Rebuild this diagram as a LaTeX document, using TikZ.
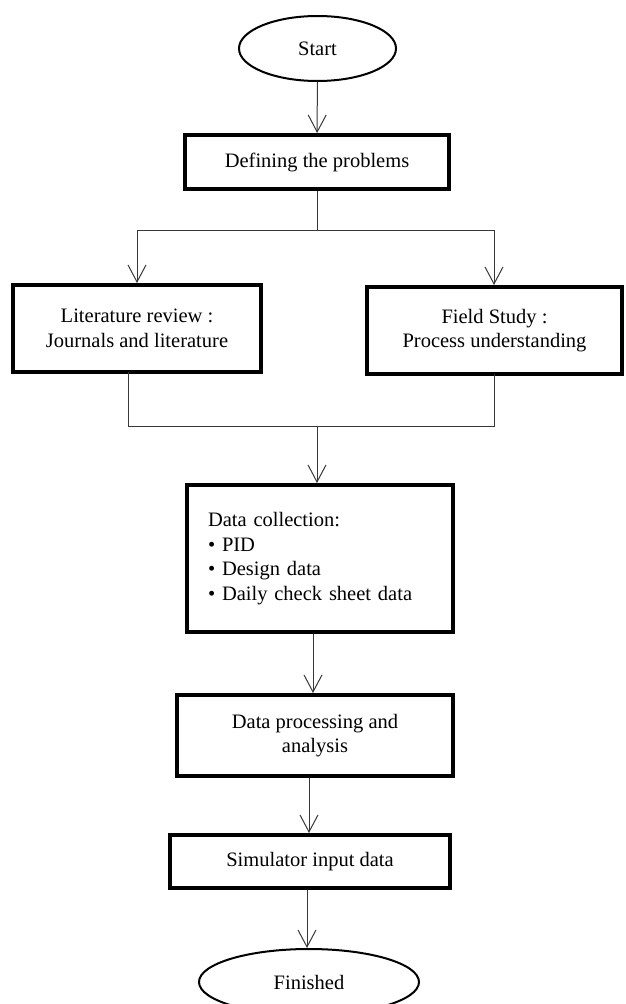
\documentclass[tikz,border=0pt]{standalone}
\usepackage{fontspec}
\setmainfont{Liberation Serif}
\usetikzlibrary{shapes.geometric,arrows.meta}
\begin{document}
\begin{tikzpicture}[x=1pt,y=-1pt,
  every node/.style={font=\fontsize{20.5}{24.5}\selectfont},
  stepbox/.style={draw=black, line width=4pt, rectangle, inner sep=0pt, align=center},
  termbox/.style={draw=black, line width=2pt, ellipse, inner sep=0pt},
  conn/.style={draw=black!78, line width=1pt},
  arr/.style={conn, -{Straight Barb[length=17pt,width=18pt,line width=1pt]}}
]
\useasboundingbox (0,0) rectangle (625,1004);

\node[termbox, minimum width=157pt, minimum height=65pt] (start) at (317.5,48.5) {Start};
\node[stepbox, minimum width=264pt, minimum height=54pt] (def) at (317,162) {Defining the problems};
\node[stepbox, minimum width=248pt, minimum height=87pt] (lit) at (137,328.5) {Literature review :\\Journals and literature};
\node[stepbox, minimum width=255pt, minimum height=87pt] (field) at (494.5,330.5) {Field Study :\\Process understanding};
\node[stepbox, minimum width=266pt, minimum height=147pt, text width=224pt, align=left, inner xsep=21pt] (dc) at (320,558.5)
  {Data collection:\\\textbullet{} PID\\\textbullet{} Design data\\\textbullet{} Daily check sheet data};
\node[stepbox, minimum width=276pt, minimum height=81pt] (dp) at (315,735.5) {Data processing and\\analysis};
\node[stepbox, minimum width=280pt, minimum height=53pt] (sim) at (310,861.5) {Simulator input data};
\node[termbox, minimum width=220pt, minimum height=66pt] (fin) at (309,982) {Finished};

\coordinate (sp) at (317,230);
\coordinate (spL) at (137,230);
\coordinate (spR) at (494,230);
\coordinate (jL) at (128,426);
\coordinate (jR) at (494,426);
\coordinate (jC) at (317,426);
\coordinate (x1) at (313,0);
\coordinate (x2) at (309,0);
\coordinate (x3) at (307,0);

\draw[arr] (start) -- (def);
\draw[conn] (def) -- (sp);
\draw[conn] (spL) -- (spR);
\draw[arr] (spL) -- (spL |- lit.north);
\draw[arr] (spR) -- (spR |- field.north);
\draw[conn] ([yshift=2pt]jL |- lit.south) -- (jL) -- (jR) -- ([yshift=2pt]jR |- field.south);
\draw[arr] (jC) -- (jC |- dc.north);
\draw[arr] (x1 |- dc.south) -- (x1 |- dp.north);
\draw[arr] (x2 |- dp.south) -- (x2 |- sim.north);
\draw[arr] (x3 |- sim.south) -- (x3 |- fin.north);
\end{tikzpicture}
\end{document}
